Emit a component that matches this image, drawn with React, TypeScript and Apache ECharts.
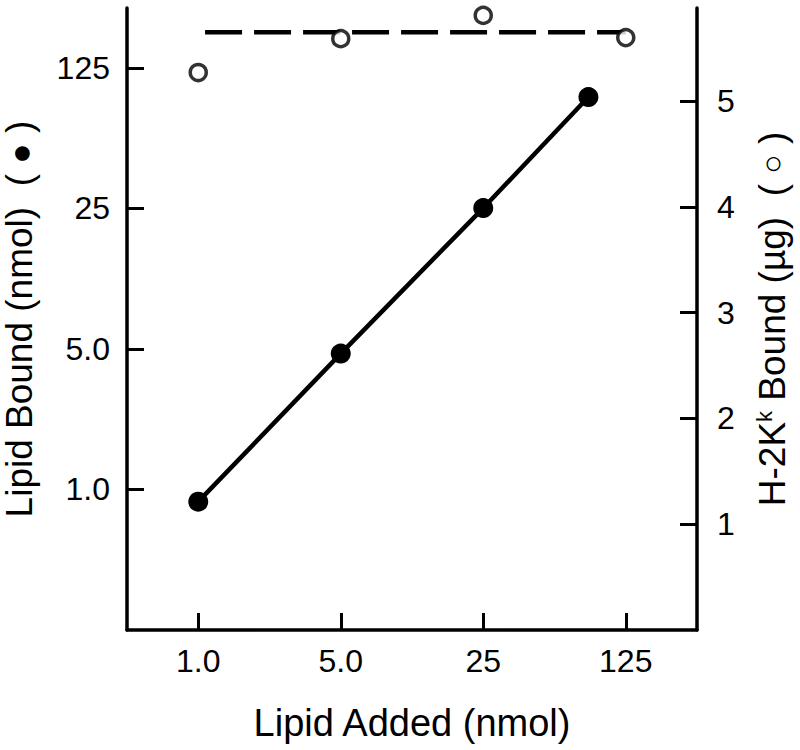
import React, { useEffect, useRef } from "react";
import * as echarts from "echarts";

// Lipid added (nmol) vs lipid bound (nmol) — filled circles, left log axis
const lipidAdded = [1.0, 5.0, 25, 82];
const lipidBound = [0.87, 4.74, 25.1, 89.5];

// Lipid added (nmol) vs H-2Kk bound (µg) — open circles, right linear axis
const h2kAdded = [1.0, 5.0, 25, 125];
const h2kBound = [5.27, 5.59, 5.81, 5.6];

// Dashed mean line for H-2Kk bound
const meanLineX = [1.08, 125];
const meanLineY = [5.65, 5.65];

// Tick values
const xTicks = [1, 5, 25, 125];
const leftTicks = [1, 5, 25, 125];
const rightTicks = [1, 2, 3, 4, 5];

const FONT = "Liberation Sans, Arial, Helvetica, sans-serif";

function fmtLog(v: number): string {
  const r = Math.round(v * 1000) / 1000;
  return r < 10 ? r.toFixed(1) : String(Math.round(r));
}

export default function App() {
  const ref = useRef<HTMLDivElement>(null);
  useEffect(() => {
    if (!ref.current) return;
    const chart = echarts.init(ref.current, null, { renderer: "svg" });
    const axisLine = { show: true, lineStyle: { color: "#000", width: 3.5 } };
    // negative length draws the ticks toward the plot area
    const axisTick = (vals: number[]) => ({
      show: true,
      inside: false,
      length: -17,
      lineStyle: { color: "#000", width: 3 },
      customValues: vals,
    });
    const labelBase = {
      color: "#000",
      fontSize: 32,
      fontFamily: FONT,
    };
    chart.setOption({
      animation: false,
      backgroundColor: "#fff",
      grid: {
        left: 127,
        right: 103,
        top: 8,
        bottom: 120,
        containLabel: false,
        outerBoundsMode: "none",
      },
      xAxis: {
        type: "log",
        logBase: 5,
        min: Math.pow(5, -0.5),
        max: Math.pow(5, 3.5),
        axisLine,
        axisTick: axisTick(xTicks),
        splitLine: { show: false },
        minorTick: { show: false },
        axisLabel: {
          ...labelBase,
          margin: 15,
          customValues: xTicks,
          formatter: (v: number) => fmtLog(v),
        },
        name: "Lipid Added (nmol)",
        nameLocation: "middle",
        nameGap: 74,
        nameTextStyle: { color: "#000", fontSize: 38, fontFamily: FONT },
      },
      yAxis: [
        {
          type: "log",
          logBase: 5,
          position: "left",
          min: 0.2,
          max: Math.pow(5, 3.426),
          axisLine,
          axisTick: axisTick(leftTicks),
          splitLine: { show: false },
          minorTick: { show: false },
          axisLabel: {
            ...labelBase,
            margin: 17,
            customValues: leftTicks,
            formatter: (v: number) => fmtLog(v),
          },
          name: "{t|Lipid Bound (nmol)}{s|  ( }{d|●}{s| )}",
          nameLocation: "middle",
          nameGap: 89,
          nameRotate: 90,
          nameTextStyle: {
            color: "#000",
            fontSize: 37,
            fontFamily: FONT,
            rich: {
              t: { fontSize: 37, fontFamily: FONT, color: "#000" },
              s: { fontSize: 37, fontFamily: FONT, color: "#000" },
              d: { fontSize: 34, fontFamily: FONT, color: "#000" },
            },
          },
        },
        {
          type: "value",
          position: "right",
          min: 0,
          max: 5.88,
          axisLine,
          axisTick: axisTick(rightTicks),
          splitLine: { show: false },
          axisLabel: {
            ...labelBase,
            margin: 20,
            customValues: rightTicks,
            formatter: (v: number) => String(Math.round(v)),
          },
          name: "{t|H-2K}{sup|k}{t| Bound (µg)}{s|  ( }{o|○}{s| )}",
          nameLocation: "middle",
          nameGap: 56,
          nameRotate: 90,
          nameTextStyle: {
            color: "#000",
            fontSize: 37,
            fontFamily: FONT,
            rich: {
              t: { fontSize: 37, fontFamily: FONT, color: "#000" },
              sup: { fontSize: 22, fontFamily: FONT, color: "#000", verticalAlign: "top", padding: [0, 0, 16, 0] },
              s: { fontSize: 37, fontFamily: FONT, color: "#000" },
              o: { fontSize: 32, fontFamily: FONT, color: "#000", fontWeight: "bold" },
            },
          },
        },
      ],
      series: [
        {
          type: "line",
          yAxisIndex: 1,
          data: meanLineX.map((x, i) => [x, meanLineY[i]]),
          symbol: "none",
          lineStyle: { color: "#000", width: 4.5, type: [37, 12] },
          z: 1,
        },
        {
          type: "line",
          yAxisIndex: 0,
          data: lipidAdded.map((x, i) => [x, lipidBound[i]]),
          symbol: "circle",
          symbolSize: 20,
          itemStyle: { color: "#000" },
          lineStyle: { color: "#000", width: 4.5 },
          z: 2,
        },
        {
          type: "scatter",
          yAxisIndex: 1,
          data: h2kAdded.map((x, i) => [x, h2kBound[i]]),
          symbol: "circle",
          symbolSize: 16,
          itemStyle: { color: "#fff", borderColor: "#000", borderWidth: 3.5 },
          z: 3,
        },
      ],
    });
    return () => chart.dispose();
  }, []);
  return (
    <div
      ref={ref}
      style={{ position: "fixed", left: 0, top: 0, width: 800, height: 750, background: "#fff" }}
    />
  );
}
